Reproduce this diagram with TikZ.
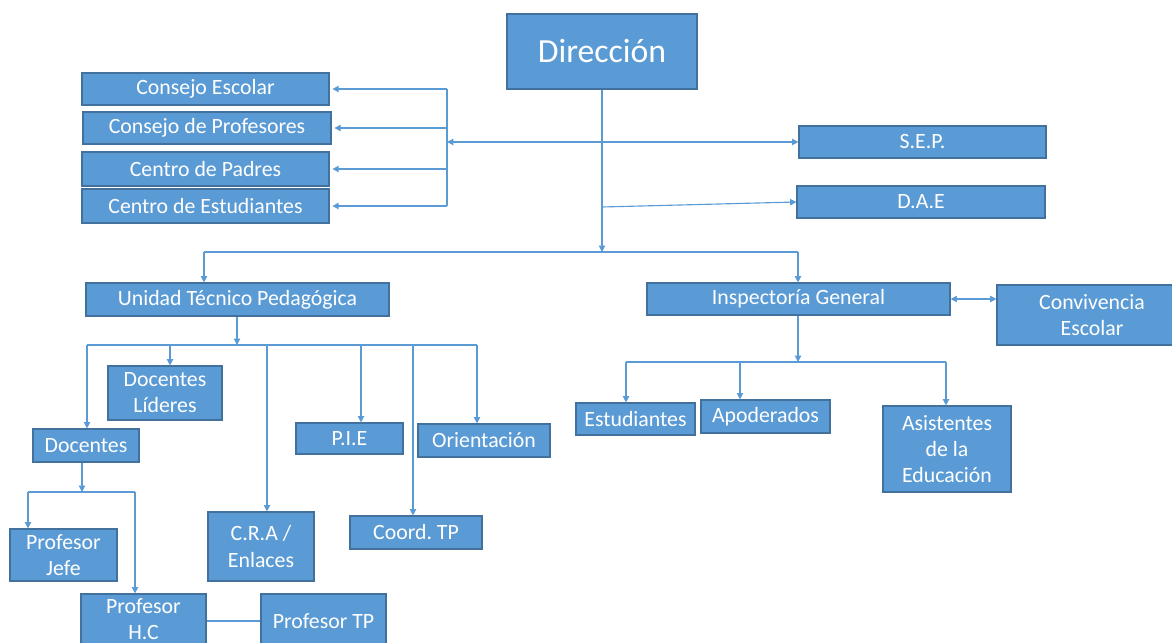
\documentclass[tikz,border=0pt]{standalone}
\usepackage{fontspec}
\setmainfont{Carlito}
\definecolor{orgFill}{RGB}{91,155,213}
\definecolor{orgEdge}{RGB}{65,113,156}
\definecolor{orgLine}{RGB}{91,155,213}
\usetikzlibrary{arrows.meta,positioning}

\begin{document}
\begin{tikzpicture}[x=0.025cm, y=-0.025cm,
  unit/.style={draw=orgEdge, fill=orgFill, line width=0.8pt, text=white,
    align=center, inner sep=0pt, font=\fontsize{15.5}{18.6}\selectfont},
  sz/.style 2 args={minimum width=#1*0.025cm, minimum height=#2*0.025cm},
  link/.style={orgLine, line width=0.8pt},
  arr/.style={link, -{Triangle[length=4.5pt,width=4.5pt]}},
  both/.style={link, {Triangle[length=4.5pt,width=4.5pt]}-{Triangle[length=4.5pt,width=4.5pt]}}]
  \useasboundingbox (0,0) rectangle (1172,643);
  \clip (0,0) rectangle (1172,643);

  % top
  \node[unit, sz={190}{75}, font=\fontsize{24}{29}\selectfont] (dir) at (602,51.5) {Dirección};
  \node[unit, sz={247}{32}] (cescolar) at (205.5,89) {Consejo Escolar};
  \node[unit, sz={248}{32}] (cprof) at (207,128) {Consejo de Profesores};
  \node[unit, sz={247}{34}] (cpadres) at (205.5,169) {Centro de Padres};
  \node[unit, sz={247}{34}] (cestud) at (205.5,206) {Centro de Estudiantes};
  \node[unit, sz={247}{32}] (sep) at (922.5,142) {S.E.P.};
  \node[unit, sz={248}{32}] (dae) at (921,202) {D.A.E};

  % second level
  \node[unit, sz={303}{33}] (utp) at (237.5,299.5) {Unidad Técnico Pedagógica};
  \node[unit, sz={303}{32}] (insp) at (798.5,299) {Inspectoría General};
  \node[unit, sz={190}{60}] (conv) at (1092,315) {Convivencia\\Escolar};

  % under UTP
  \node[unit, sz={114}{54}] (dlideres) at (165,393) {Docentes\\Líderes};
  \node[unit, sz={106}{33}] (docentes) at (86,445.5) {Docentes};
  \node[unit, sz={107}{31}] (pie) at (349.5,438.5) {P.I.E};
  \node[unit, sz={132}{33}] (orient) at (484,440.5) {Orientación};
  \node[unit, sz={106}{69}] (cra) at (261,546.5) {C.R.A /\\Enlaces};
  \node[unit, sz={132}{33}] (coord) at (416,532.5) {Coord.\ TP};
  \node[unit, sz={107}{52}] (pjefe) at (63.5,555) {Profesor\\Jefe};
  \node[unit, sz={125}{50}] (phc) at (143.5,619) {Profesor\\H.C};
  \node[unit, sz={125}{54}] (ptp) at (323.5,621) {Profesor TP};

  % under Inspectoria
  \node[unit, sz={119}{32}] (estud) at (635.5,419) {Estudiantes};
  \node[unit, sz={129}{33}] (apod) at (765.5,416.5) {Apoderados};
  \node[unit, sz={128}{86}] (asist) at (947,449) {Asistentes\\de la\\Educación};

  % Direccion links
  \coordinate (mid) at (602,252);
  \coordinate (lb) at (204,252);
  \coordinate (rb) at (798,252);
  \draw[arr] (dir.south) -- (mid);
  \draw[link] (lb) -- (rb);
  \draw[arr] (lb) -- (lb |- utp.north);
  \draw[arr] (rb) -- (rb |- insp.north);

  \coordinate (ctop) at (447,89);
  \coordinate (cbot) at (447,206);
  \coordinate (cmid) at (447,142);
  \draw[link] (ctop) -- (cbot);
  \foreach \n in {cescolar,cprof,cpadres,cestud}
    \draw[arr, shorten >=2pt] (ctop |- \n.east) -- (\n.east);
  \draw[both] (cmid) -- (sep.west);
  \coordinate (dj) at (602,207);
  \draw[arr] (dj) -- (dae.west);

  % UTP links
  \coordinate (ub) at (237,345);
  \coordinate (ubl) at (87,345);
  \coordinate (ubr) at (477,345);
  \draw[arr] (utp.south -| ub) -- (ub);
  \draw[link] (ubl) -- (ubr);
  \foreach \x/\n in {87/docentes,170/dlideres,267/cra,361/pie,413/coord,477/orient}{
    \coordinate (b) at (\x,345);
    \draw[arr] (b) -- (b |- \n.north);
  }

  % Docentes links
  \coordinate (db) at (82,492);
  \coordinate (dl) at (28,492);
  \coordinate (dr) at (135,492);
  \draw[arr] (docentes.south -| db) -- (db);
  \draw[link] (dl) -- (dr);
  \draw[arr] (dl) -- (dl |- pjefe.north);
  \draw[arr] (dr) -- (dr |- phc.north);
  \draw[link] (ptp.west -| phc.east) -- (ptp.west);

  % Inspectoria links
  \coordinate (ib) at (798,362);
  \coordinate (il) at (626,362);
  \coordinate (ia) at (740,362);
  \coordinate (ir) at (946,362);
  \draw[arr] (insp.south -| ib) -- (ib);
  \draw[link] (il) -- (ir);
  \draw[arr] (il) -- (il |- estud.north);
  \draw[arr] (ia) -- (ia |- apod.north);
  \draw[arr] (ir) -- (ir |- asist.north);
  \draw[both] (insp.east) -- (insp.east -| conv.west);
\end{tikzpicture}
\end{document}
